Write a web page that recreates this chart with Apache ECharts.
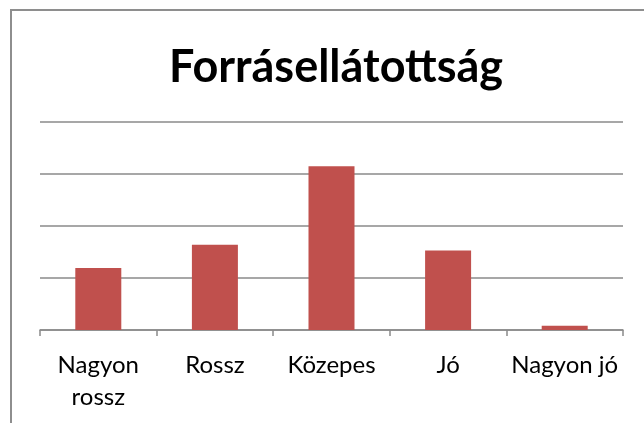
<!DOCTYPE html>
<html>
<head>
<meta charset="utf-8">
<script src="https://cdn.jsdelivr.net/npm/echarts@6/dist/echarts.min.js"></script>
<style>
  html, body { margin: 0; padding: 0; background: #fff; }
  #main { width: 644px; height: 423px; }
</style>
</head>
<body>
<div id="main"></div>
<script>
// adatok
var categories = ['Nagyon rossz', 'Rossz', 'Közepes', 'Jó', 'Nagyon jó']
var values = [11.9, 16.4, 31.5, 15.3, 0.8]

var myChart = echarts.init(document.getElementById('main'))
myChart.setOption({
  backgroundColor: '#ffffff',
  animation: false,
  graphic: [
    {
      type: 'rect',
      shape: { x: 11, y: 10, width: 700, height: 500 },
      style: { fill: 'none', stroke: '#8e8e8e', lineWidth: 2 },
      silent: true
    }
  ],
  title: {
    text: 'Forrásellátottság',
    left: 331,
    textAlign: 'center',
    top: 40,
    textStyle: {
      fontFamily: 'Lato',
      fontWeight: 'bold',
      fontSize: 45,
      color: '#000'
    }
  },
  grid: {
    left: 40,
    right: 21,
    top: 122,
    bottom: 93,
    containLabel: false
  },
  xAxis: {
    type: 'category',
    data: categories,
    axisLine: { lineStyle: { color: '#8a8a8a', width: 1.5 } },
    axisTick: { show: true, length: 6, lineStyle: { color: '#8a8a8a', width: 1.5 } },
    axisLabel: {
      color: '#000',
      fontFamily: 'Lato',
      fontSize: 24,
      lineHeight: 32,
      margin: 19,
      interval: 0,
      formatter: function (v) {
        return v === 'Nagyon rossz' ? 'Nagyon\nrossz' : v
      }
    }
  },
  yAxis: {
    type: 'value',
    min: 0,
    max: 40,
    interval: 10,
    axisLine: { show: false },
    axisTick: { show: false },
    axisLabel: { show: false },
    splitLine: { lineStyle: { color: '#8a8a8a', width: 1.5 } }
  },
  series: [
    {
      type: 'bar',
      data: values,
      barWidth: 46,
      itemStyle: { color: '#c0504d' }
    }
  ]
})
window.onresize = myChart.resize
</script>
</body>
</html>
